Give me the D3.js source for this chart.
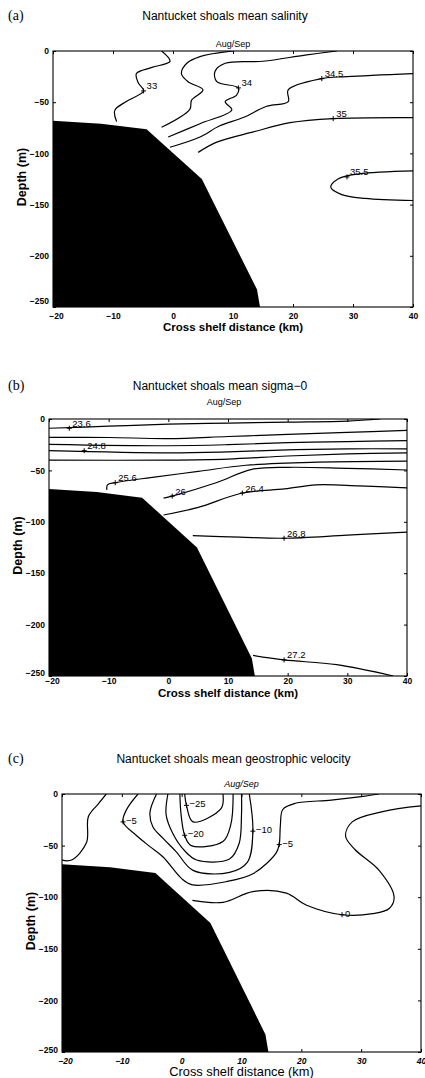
<!DOCTYPE html>
<html><head><meta charset="utf-8">
<script src="https://cdn.jsdelivr.net/npm/d3@7"></script>
<style>body{margin:0;background:#fff} svg{display:block}</style>
</head><body>
<svg id="chart" width="425" height="1078"></svg>
<script>
// ---------- shared data ----------
const xTicks = [-20, -10, 0, 10, 20, 30, 40];
const yTicks = [0, -50, -100, -150, -200, -250];
const panelLetters = ["(a)", "(b)", "(c)"];
const panelTitles = ["Nantucket shoals mean salinity", "Nantucket shoals mean sigma\u22120", "Nantucket shoals mean geostrophic velocity"];
const season = "Aug/Sep";
const xLabel = "Cross shelf distance (km)";
const yLabel = "Depth (m)";
// bottom profile [km, depth m]
const bathymetry = [[-20, -68], [-12, -71], [-4.4, -76.5], [4.8, -125], [14, -233], [14.5, -250], [-20, -250]];

// ---------- (a) salinity ----------
const salinityLevels = [33, 33.5, 34, 34.5, 35, 35.5];
const salinityLines = [
  [[-1.9, 0], [-0.5, -10], [-3.5, -16], [-6.1, -22], [-5.8, -31], [-4.9, -39], [-7.7, -49], [-9.7, -58], [-9.4, -69]],
  [[10, 0], [4.5, -5.5], [2.3, -12], [1.4, -22], [2.5, -30], [5, -38], [3.1, -48], [2.8, -57], [-1.9, -74.5]],
  [[27.3, 0], [22, -4], [15, -10], [8.7, -12], [7, -20], [7.3, -30], [10.9, -36], [10.6, -43], [8.7, -49.5], [9.8, -57.5], [4.5, -71], [-0.8, -84]],
  [[40, -22], [29, -25], [24.8, -27], [19.2, -38], [19.2, -49.5], [15.6, -54], [11.7, -65], [7.8, -73], [4.5, -84], [-0.5, -94]],
  [[40, -65], [26.7, -66], [19.5, -70], [13.4, -79], [7.3, -89], [4.2, -99]],
  [[40, -117], [31, -120], [27.5, -125], [26.3, -133], [28, -140], [32, -144], [40, -146]]
];
const salinityLabels = [[33, -4.9, -39], [34, 10.9, -36], [34.5, 24.8, -27], [35, 26.7, -66], [35.5, 29, -123]];

// ---------- (b) sigma-0 ----------
const sigmaLevels = [23.6, 24.0, 24.4, 24.8, 25.2, 25.6, 26.0, 26.4, 26.8, 27.2];
const sigmaLines = [
  [[-20, -9], [-10, -7], [0, -5], [10, -4], [20, -3], [30, -2], [35.5, 0]],
  [[-20, -17.8], [-10, -18], [0, -19], [10, -17], [20, -15], [30, -13], [40, -11]],
  [[-20, -24.6], [0, -26], [10, -25], [20, -23], [30, -22], [40, -21]],
  [[-20, -30.8], [0, -33], [10, -32], [20, -30], [30, -29], [40, -29]],
  [[-20, -40], [0, -40], [10, -39], [20, -36], [30, -34], [40, -33]],
  [[-10.3, -69], [-10.2, -64], [-8.9, -62], [-3, -57], [5, -51], [13, -45], [25, -42], [40, -41]],
  [[-0.8, -77], [0.65, -75], [8, -62], [14, -49], [20, -47], [30, -48], [40, -49.6]],
  [[-0.8, -93.4], [5, -86], [12.4, -72], [19.5, -68], [24.8, -64], [32, -65], [40, -67]],
  [[4.1, -113.5], [12, -115], [19.4, -116], [30, -113], [40, -110]],
  [[14.2, -230], [19.4, -234.4], [28.2, -239], [37.7, -250]]
];
const sigmaLabels = [[23.6, -16.6, -9], [24.8, -14.1, -30.8], [25.6, -8.9, -62], [26, 0.65, -75], [26.4, 12.4, -72], [26.8, 19.4, -116], [27.2, 19.4, -234.4]];

// ---------- (c) geostrophic velocity ----------
const velocityLevels = [0, -5, -10, -15, -20, -25, 0];
const velocityLines = [
  [[-12.6, 0], [-14, -10], [-15.6, -22], [-15.9, -47], [-18.4, -64], [-20, -64]],
  [[-7.3, 0], [-9.2, -15], [-9.8, -27], [-7.6, -40], [-5.3, -51], [-3.1, -61], [0, -82], [1.8, -88], [7.4, -85], [12, -77], [15.8, -57], [16.3, -49], [16.5, -30], [16.9, -15], [19, -9], [25, -6], [30, -2.6], [33, 0]],
  [[-4.2, 0], [-5.3, -18], [-4.8, -32], [-3.1, -43], [-0.9, -56], [1.9, -74], [8, -76], [11, -66], [11.9, -36], [11.3, 0]],
  [[-2.3, 0], [-2.6, -20], [-1.5, -38], [0.5, -55], [2.5, -64], [8, -63], [9.6, -48], [10, -20], [10, 0]],
  [[-0.3, 0], [-0.1, -20], [0.5, -40], [1.6, -50], [6.9, -46], [8.2, -30], [8.6, 0]],
  [[0.5, 0], [0.8, -11], [1.9, -27], [6.6, -14], [6.9, 0]],
  [[40, -11.6], [33.6, -17], [28.5, -27], [27.4, -41], [29, -54], [33, -74], [35.5, -99.5], [34.7, -111], [31.9, -116], [26.8, -117], [20.8, -107.6], [17.5, -96], [11.9, -94.6], [6.9, -105], [1.8, -103]]
];
const velocityLabels = [[-5, -9.8, -27], [-25, 0.8, -11], [-20, 0.5, -40], [-10, 11.9, -36], [-5, 16.3, -49], [0, 26.8, -117]];

const panels = [
  {box: [53, 413, 51, 307], top: 15, lines: salinityLines, labels: salinityLabels, italic: false, pad: 6, xl: 24, bold: true, xlSize: 11.5, season: 47, ldy: -1.5, cornerLift: 6},
  {box: [49, 407, 419, 676], top: 385, lines: sigmaLines, labels: sigmaLabels, italic: false, pad: 2, xl: 21, bold: true, xlSize: 11.5, season: 405, ldy: -1.5, cornerLift: 3},
  {box: [62, 421, 794, 1052], top: 758, lines: velocityLines, labels: velocityLabels, italic: true, pad: 5.5, xl: 24, bold: false, xlSize: 12.8, season: 787, ldy: 2, cornerLift: 2}
];

const svg = d3.select("#chart");
const sans = "'Liberation Sans', Arial, Helvetica, sans-serif";
const minus = v => String(v).replace("-", "\u2212");

panels.forEach((p, i) => {
  const [x0, x1, y0, y1] = p.box;
  const x = d3.scaleLinear().domain([-20, 40]).range([x0, x1]);
  const y = d3.scaleLinear().domain([0, -250]).range([y0, y1]);
  const g = svg.append("g");

  g.append("text").attr("x", 8).attr("y", p.top + 5).text(panelLetters[i])
    .attr("font-family", "'Liberation Serif', 'Times New Roman', serif").attr("font-size", 14);
  g.append("text").attr("x", (x0 + x1) / 2 - 8).attr("y", p.top + 5).attr("text-anchor", "middle")
    .text(panelTitles[i]).attr("font-family", sans).attr("font-size", 12);
  g.append("text").attr("x", (x0 + x1) / 2 - (i === 1 ? 4 : 0)).attr("y", p.season).attr("text-anchor", "middle")
    .text(season).attr("font-family", sans).attr("font-size", 9).attr("font-style", p.italic ? "italic" : "normal");

  const clipId = "clip" + i;
  g.append("clipPath").attr("id", clipId).append("rect")
    .attr("x", x0).attr("y", y0).attr("width", x1 - x0).attr("height", y1 - y0);

  const line = d3.line().x(d => x(d[0])).y(d => y(d[1])).curve(d3.curveCatmullRom.alpha(0.5));
  const cg = g.append("g").attr("clip-path", `url(#${clipId})`);
  cg.selectAll("path.c").data(p.lines).join("path")
    .attr("d", line).attr("fill", "none").attr("stroke", "#000").attr("stroke-width", 1.2);

  cg.append("path")
    .attr("d", d3.line().x(d => x(d[0])).y(d => y(d[1])).curve(d3.curveLinear)(bathymetry) + "Z")
    .attr("fill", "#000");

  // contour labels
  p.labels.forEach(([lv, kx, dy]) => {
    const px = x(kx), py = y(dy);
    g.append("path").attr("d", `M${px - 2.5},${py}H${px + 2.5}M${px},${py - 2.5}V${py + 2.5}`)
      .attr("stroke", "#000").attr("stroke-width", 1);
    g.append("text").attr("x", px + 3).attr("y", py + p.ldy).text(minus(lv))
      .attr("font-family", sans).attr("font-size", 9.5);
  });

  // frame
  g.append("rect").attr("x", x0).attr("y", y0).attr("width", x1 - x0).attr("height", y1 - y0)
    .attr("fill", "none").attr("stroke", "#000").attr("stroke-width", 1.1);

  // axes (ticks inward)
  const xb = g.append("g").attr("transform", `translate(0,${y1})`)
    .call(d3.axisBottom(x).tickValues(xTicks).tickSize(-3).tickPadding(p.pad).tickFormat(minus));
  const xt = g.append("g").attr("transform", `translate(0,${y0})`)
    .call(d3.axisTop(x).tickValues(xTicks).tickSize(-3).tickFormat(""));
  const yl = g.append("g").attr("transform", `translate(${x0},0)`)
    .call(d3.axisLeft(y).tickValues(yTicks).tickSize(-3).tickPadding(4).tickFormat(minus));
  const yr = g.append("g").attr("transform", `translate(${x1},0)`)
    .call(d3.axisRight(y).tickValues(yTicks).tickSize(-3).tickFormat(""));
  [xb, xt, yl, yr].forEach(a => {
    a.select(".domain").remove();
    a.selectAll("text").attr("font-family", sans).attr("font-size", 8.5).attr("font-weight", "bold").attr("fill", "#000");
    a.selectAll("line").attr("stroke", "#000");
  });
  if (p.italic) xb.selectAll("text").attr("font-style", "italic");
  // corner labels nudged apart as in the original
  yl.selectAll(".tick").filter(d => d === -250).select("text").attr("y", -p.cornerLift);
  xb.selectAll(".tick").filter(d => d === -20).select("text").attr("x", 3);

  g.append("text").attr("x", (x0 + x1) / 2).attr("y", y1 + p.xl).attr("text-anchor", "middle")
    .text(xLabel).attr("font-family", sans).attr("font-size", p.xlSize).attr("font-weight", p.bold ? "bold" : "normal");
  g.append("text").attr("transform", `translate(${x0 - 27},${(y0 + y1) / 2 - 2}) rotate(-90)`).attr("text-anchor", "middle")
    .text(yLabel).attr("font-family", sans).attr("font-size", 12.5).attr("font-weight", "bold");
});
</script>
</body></html>
